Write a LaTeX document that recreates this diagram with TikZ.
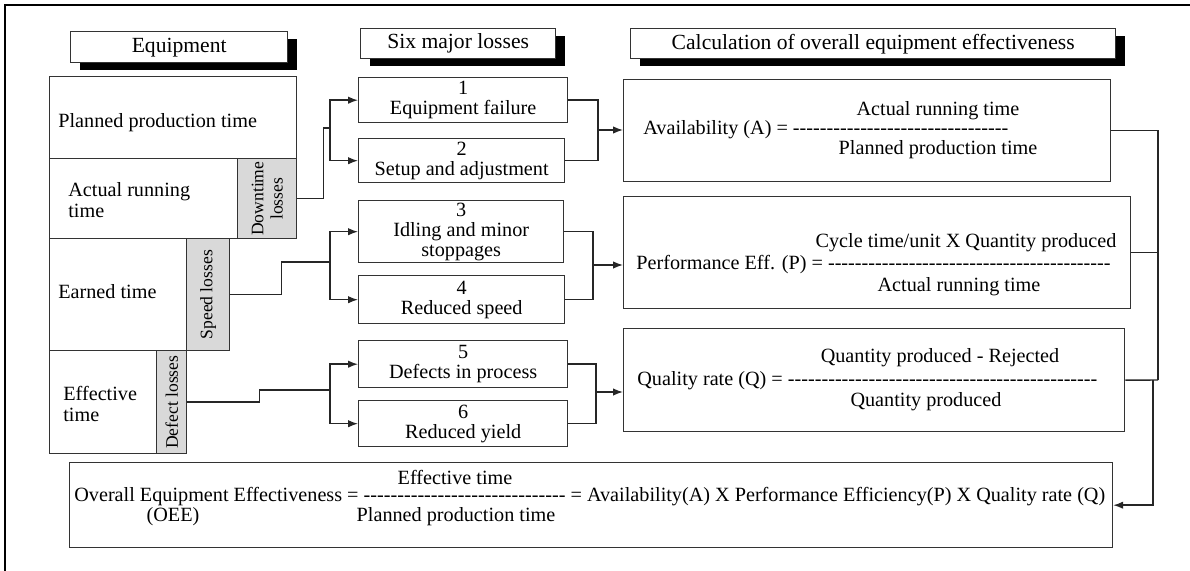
\documentclass[tikz,border=0pt]{standalone}
\usepackage{fontspec}
\setmainfont{Liberation Serif}
\usetikzlibrary{arrows.meta, shadows}

% row of typed hyphens (no en-dash ligature)
\newcommand\hyphens[1]{\foreach\k in {1,...,#1}{-}}

\tikzset{
  box/.style={draw=black!80, line width=0.8pt, fill=white, inner sep=0pt, anchor=north west},
  headbox/.style={box, font=\fontsize{12.3}{14}\selectfont,
    general shadow={fill=black, shadow xshift=0.19cm, shadow yshift=-0.15cm}},
  lossbox/.style={box, align=center, font=\fontsize{11.5}{11.5}\selectfont},
  greybox/.style={box, fill=gray!30},
  txt/.style={inner sep=0pt, font=\fontsize{11.5}{11.5}\selectfont},
  vtxt/.style={inner sep=0pt, rotate=90, align=center, font=\fontsize{10}{11}\selectfont},
  link/.style={draw=black!85, line width=0.8pt},
  arr/.style={link, -{Latex[length=2mm, width=1.5mm]}},
}

\begin{document}
\begin{tikzpicture}[x=0.02cm, y=-0.02cm]
  \useasboundingbox (0,0) rectangle (1190,571);
  % frame
  \draw[line width=1.3pt] (5,571) -- (5,5) -- (1190,5);

  % headers
  \node[headbox, minimum width=4.34cm, minimum height=0.62cm] (eqh) at (70,31) {Equipment};
  \node[headbox, minimum width=3.9cm, minimum height=0.6cm] (sixh) at (360,28) {Six major losses};
  \node[headbox, minimum width=9.7cm, minimum height=0.6cm] (calh) at (630,28) {Calculation of overall equipment effectiveness};

  % equipment column
  \node[box, minimum width=4.94cm, minimum height=1.64cm] (plan) at (49,76) {};
  \node[box, minimum width=3.76cm, minimum height=1.6cm] (act) at (49,158) {};
  \node[greybox, minimum width=1.18cm, minimum height=1.6cm] (dt) at (237,158) {};
  \node[box, minimum width=2.74cm, minimum height=2.24cm] (earn) at (49,238) {};
  \node[greybox, minimum width=0.86cm, minimum height=2.24cm] (sp) at (186,238) {};
  \node[box, minimum width=2.14cm, minimum height=2.06cm] (eff) at (49,350) {};
  \node[greybox, minimum width=0.6cm, minimum height=2.06cm] (df) at (156,350) {};

  \node[txt, anchor=west] (plantxt) at (58,123) {Planned production time};
  \node[txt, anchor=west, align=left] (acttxt) at (68,200) {Actual running\\time};
  \node[txt, anchor=west] (earntxt) at (58,292) {Earned time};
  \node[txt, anchor=west, align=left] (efftxt) at (63,404) {Effective\\time};
  \node[vtxt] (dttxt) at (dt.center) {Downtime\\losses};
  \node[vtxt] (sptxt) at (sp.center) {Speed losses};
  \node[vtxt] (dftxt) at (df.center) {Defect losses};

  % six major losses
  \node[lossbox, minimum width=4.18cm, minimum height=0.9cm] (l1) at (358,77) {1\\Equipment failure};
  \node[lossbox, minimum width=4.12cm, minimum height=0.88cm] (l2) at (358,138) {2\\Setup and adjustment};
  \node[lossbox, minimum width=4.1cm, minimum height=1.24cm] (l3) at (358,200) {3\\Idling and minor\\stoppages};
  \node[lossbox, minimum width=4.12cm, minimum height=0.96cm] (l4) at (358,275) {4\\Reduced speed};
  \node[lossbox, minimum width=4.18cm, minimum height=0.94cm] (l5) at (358,340) {5\\Defects in process};
  \node[lossbox, minimum width=4.18cm, minimum height=0.92cm] (l6) at (358,400) {6\\Reduced yield};

  % calculation boxes
  \node[box, minimum width=9.74cm, minimum height=2.04cm] (avail) at (623,79) {};
  \node[box, minimum width=10.14cm, minimum height=2.24cm] (perf) at (623,196) {};
  \node[box, minimum width=10.02cm, minimum height=2.06cm] (qual) at (623,328) {};
  \node[box, minimum width=20.86cm, minimum height=1.7cm] (oee) at (69,462) {};

  \node[txt, anchor=west] (availeq) at (643,130) {Availability (A) = \hyphens{32}};
  \node[txt] (availnum) at (938,111) {Actual running time};
  \node[txt] (availden) at (938,150) {Planned production time};

  \node[txt, anchor=west] (perfeq) at (636,265) {Performance Eff. (P) = \hyphens{42}};
  \node[txt] (perfnum) at (966,243) {Cycle time/unit X Quantity produced};
  \node[txt] (perfden) at (959,287) {Actual running time};

  \node[txt, anchor=west] (qualeq) at (637,381) {Quality rate (Q) = \hyphens{46}};
  \node[txt] (qualnum) at (940,358) {Quantity produced - Rejected};
  \node[txt] (qualden) at (926,402) {Quantity produced};

  \node[txt, anchor=west] (oeeeq) at (74,497) {Overall Equipment Effectiveness = \hyphens{30} = Availability(A) X Performance Efficiency(P) X Quality rate (Q)};
  \node[txt] (oeenum) at (455,477) {Effective time};
  \node[txt] (oeeden) at (456,517) {Planned production time};
  \node[txt] (oeeabbr) at (173,517) {(OEE)};

  % losses -> six major losses
  \coordinate (j1) at (330,128);
  \coordinate (j2) at (330,262);
  \coordinate (j3) at (330,390);
  \draw[link] (dt.east) -- ++(26,0) |- (j1);
  \draw[arr] (j1) |- (l1.west);
  \draw[arr] (j1) |- (l2.west);
  \draw[link] (sp.east) -- ++(51,0) |- (j2);
  \draw[arr] (j2) |- (l3.west);
  \draw[arr] (j2) |- (l4.west);
  \draw[link] (df.east) -- ++(72,0) |- (j3);
  \draw[arr] (j3) |- (l5.west);
  \draw[arr] (j3) |- (l6.west);

  % six major losses -> calculation
  \coordinate (m1) at (598,130);
  \coordinate (m2) at (593,265);
  \coordinate (m3) at (596,392);
  \draw[link] (l1.east) -| (m1);
  \draw[link] (l2.east) -| (m1);
  \draw[arr] (m1) -- (m1 -| avail.west);
  \draw[link] (l3.east) -| (m2);
  \draw[link] (l4.east) -| (m2);
  \draw[arr] (m2) -- (m2 -| perf.west);
  \draw[link] (l5.east) -| (m3);
  \draw[link] (l6.east) -| (m3);
  \draw[arr] (m3) -- (m3 -| qual.west);

  % calculation -> OEE
  \coordinate (r1) at (1158,380);
  \coordinate (r2) at (1153,380);
  \draw[link] (avail.east) -| (r1);
  \draw[link] (perf.east) -- (perf.east -| r1);
  \draw[link] (qual.east) -- (r1);
  \draw[arr] (r2) |- (oee.east);
\end{tikzpicture}
\end{document}
